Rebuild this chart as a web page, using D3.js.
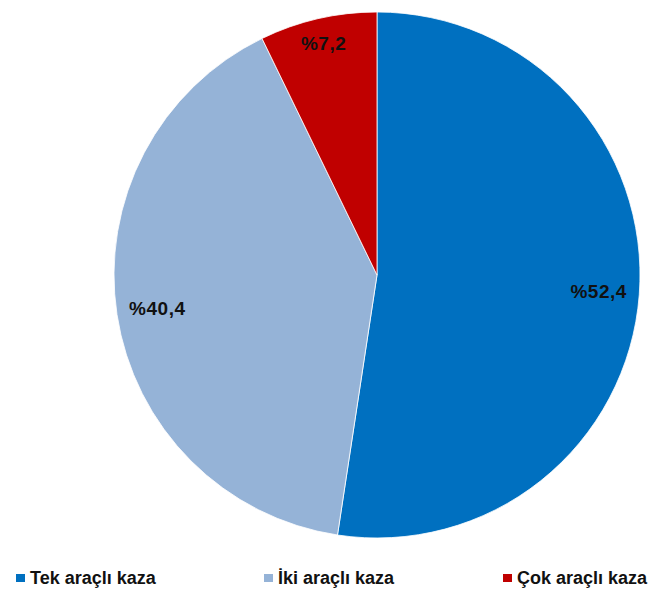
<!DOCTYPE html>
<html>
<head>
<meta charset="utf-8">
<script src="https://cdn.jsdelivr.net/npm/d3@7"></script>
<style>
  body { margin: 0; background: #fff; }
  svg { display: block; }
  .slice-label { font-family: "Liberation Sans", Arial, sans-serif; font-weight: bold; font-size: 19px; letter-spacing: 0.5px; fill: #111; }
  .legend-label { font-family: "Liberation Sans", Arial, sans-serif; font-weight: bold; font-size: 18px; fill: #111; }
</style>
</head>
<body>
<svg id="chart"></svg>
<script>
// chart data
var categories = ["Tek araçlı kaza", "İki araçlı kaza", "Çok araçlı kaza"];
var values = [52.4, 40.4, 7.2];
var labels = ["%52,4", "%40,4", "%7,2"];
var colors = ["#0070C0", "#95B3D7", "#C00000"];

var width = 648, height = 599;
var cx = 377, cy = 275, radius = 263;

var svg = d3.select("#chart").attr("width", width).attr("height", height);

var pie = d3.pie().sort(null).value(function(d) { return d.value; });
var arc = d3.arc().innerRadius(0).outerRadius(radius);

var data = categories.map(function(c, i) {
  return {name: c, value: values[i], label: labels[i], color: colors[i]};
});

var g = svg.append("g").attr("transform", "translate(" + cx + "," + cy + ")");

var slices = g.selectAll(".slice")
  .data(pie(data))
  .enter().append("g")
    .attr("class", "slice");

slices.append("path")
  .attr("d", arc)
  .style("fill", function(d) { return d.data.color; })
  .style("stroke", "#fff")
  .style("stroke-width", 0.8);

// small slices get their label pushed further out, like excel does
slices.append("text")
  .attr("class", "slice-label")
  .attr("transform", function(d) {
    var r = d.data.value < 10 ? radius * 0.905 : radius * 0.845;
    var c = d3.arc().innerRadius(r).outerRadius(r).centroid(d);
    return "translate(" + c + ")";
  })
  .attr("text-anchor", "middle")
  .attr("dy", "0.35em")
  .text(function(d) { return d.data.label; });

// legend
var legendX = [16, 264, 503];
var legend = svg.append("g").attr("class", "legend");

var items = legend.selectAll(".legend-item")
  .data(data)
  .enter().append("g")
    .attr("class", "legend-item")
    .attr("transform", function(d, i) { return "translate(" + legendX[i] + ",578)"; });

items.append("rect")
  .attr("x", 0).attr("y", -4)
  .attr("width", 9).attr("height", 8)
  .style("fill", function(d) { return d.color; });

items.append("text")
  .attr("class", "legend-label")
  .attr("x", 14)
  .attr("dy", "0.36em")
  .text(function(d) { return d.name; });
</script>
</body>
</html>
